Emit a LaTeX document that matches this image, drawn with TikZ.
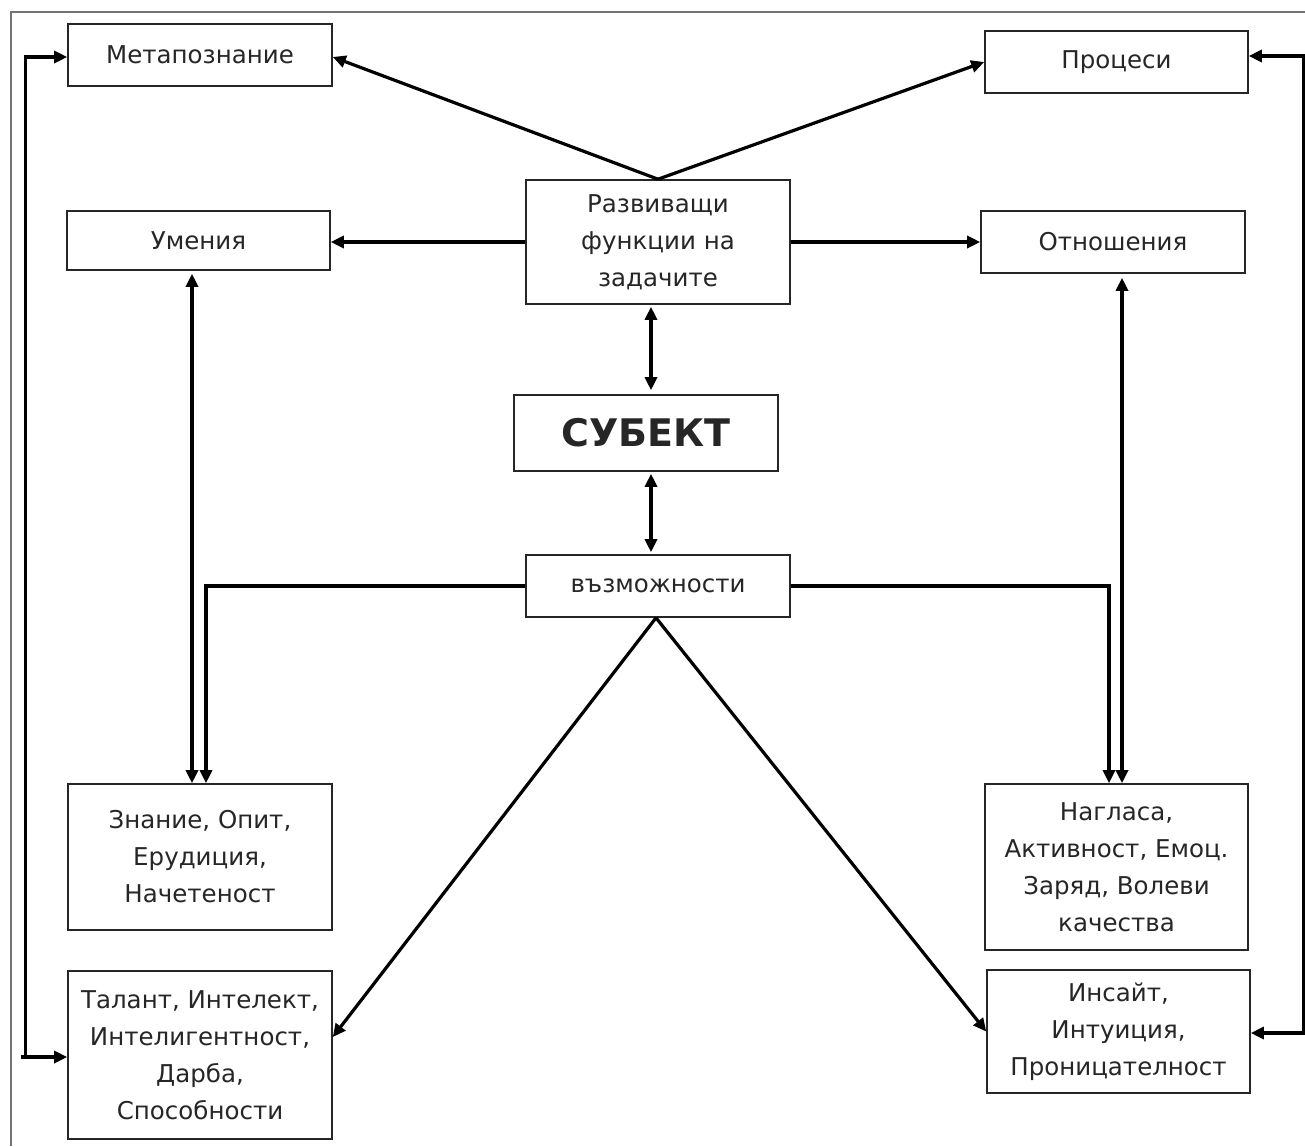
\documentclass[tikz,border=0pt]{standalone}
\usepackage{fontspec}
\setmainfont{DejaVu Sans}
\usetikzlibrary{arrows.meta,calc}
\begin{document}
\begin{tikzpicture}[x=1pt,y=-1pt,
  box/.style={draw=black!85,line width=1.6pt,inner sep=0pt,align=center,
    font=\fontsize{24.5}{37}\selectfont,text=black!85},
  conn/.style={line width=3.2pt,black},
  arr/.style={conn,-{Triangle[length=13pt,width=12pt]}},
  dbl/.style={conn,{Triangle[length=13pt,width=12pt]}-{Triangle[length=13pt,width=12pt]}},
  frame/.style={draw=black!55,line width=1.6pt}]
\useasboundingbox (0,0) rectangle (1305,1146);
\fill[white] (0,0) rectangle (1305,1146);
\draw[frame] (11,1146) -- (11,12) -- (1305,12);

\node[box,minimum width=264pt,minimum height=62pt] (metap) at (200,55) {Метапознание};
\node[box,minimum width=263pt,minimum height=62pt] (proc) at (1116.5,62) {Процеси};
\node[box,minimum width=263pt,minimum height=59pt] (umen) at (198.5,240.5) {Умения};
\node[box,minimum width=264pt,minimum height=124pt] (razv) at (658,242) {Развиващи\\функции на\\задачите};
\node[box,minimum width=264pt,minimum height=62pt] (otn) at (1113,242) {Отношения};
\node[box,minimum width=264pt,minimum height=76pt,font=\fontsize{38}{40}\bfseries\selectfont] (subj) at (646,433) {СУБЕКТ};
\node[box,minimum width=264pt,minimum height=62pt] (vazm) at (658,586) {възможности};
\node[box,minimum width=264pt,minimum height=146pt] (znan) at (200,857) {Знание, Опит,\\Ерудиция,\\Начетеност};
\node[box,minimum width=263pt,minimum height=166pt] (nagl) at (1116.5,867) {Нагласа,\\Активност, Емоц.\\Заряд, Волеви\\качества};
\node[box,minimum width=264pt,minimum height=168pt] (talant) at (200,1055) {Талант, Интелект,\\Интелигентност,\\Дарба,\\Способности};
\node[box,minimum width=263pt,minimum height=123pt] (insait) at (1118.5,1031.5) {Инсайт,\\Интуиция,\\Проницателност};

% top fan
\draw[arr] (razv.north) -- ([yshift=-2pt]metap.east);
\draw[arr] (razv.north) -- (proc.west);
\draw[arr] (razv.west) -- (razv.west -| umen.east);
\draw[arr] (razv.east) -- (razv.east -| otn.west);
% centre column
\draw[dbl,shorten <=2pt,shorten >=4pt] ([xshift=-7pt]razv.south) -- ([xshift=5pt]subj.north);
\draw[dbl,shorten <=2pt,shorten >=2pt] ([xshift=5pt]subj.south) -- ([xshift=-7pt]vazm.north);
% verticals
\draw[dbl,shorten <=3pt] ([xshift=-6.5pt]umen.south) -- ([xshift=-8pt]znan.north);
\draw[dbl,shorten <=4pt] ([xshift=9pt]otn.south) -- ([xshift=5.5pt]nagl.north);
\draw[arr] (vazm.west) -| ([xshift=6pt]znan.north);
\draw[arr] (vazm.east) -| ([xshift=-7.5pt]nagl.north);
% diagonals
\draw[arr] ([xshift=-2pt]vazm.south) -- ([yshift=18pt]talant.east);
\draw[arr] ([xshift=-2pt]vazm.south) -- (insait.west);
% outer loops
\draw[dbl] ([yshift=-2pt]metap.west) -| ($(talant.west)+(-42,2)$) -- ([yshift=-2pt]talant.west);
\draw[conn] ($(talant.west)+(-46,2)$) -- ($(talant.west)+(-42,2)$);
\draw[dbl] ([yshift=6pt]proc.east) -| ($(insait.east)+(53,1.5)$) -- ([yshift=-1.5pt]insait.east);
\end{tikzpicture}
\end{document}
